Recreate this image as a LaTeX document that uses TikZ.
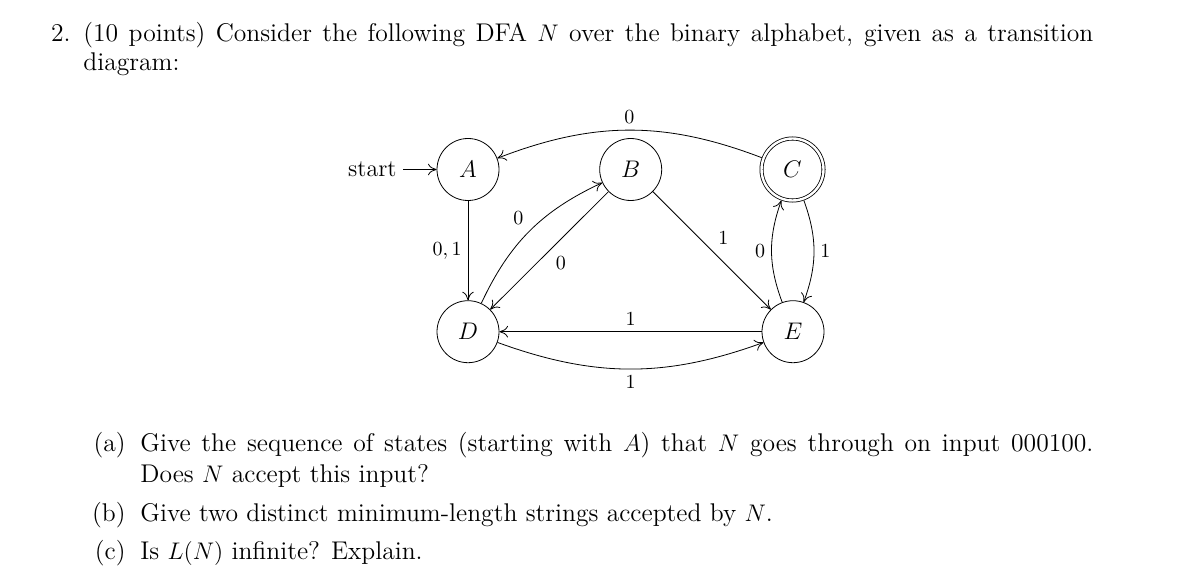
\documentclass[tikz,border=0pt]{standalone}
\usetikzlibrary{automata,arrows.meta}
\begin{document}
\begin{tikzpicture}[x=0.5pt,y=0.5pt,
  txt/.style={inner sep=0pt, anchor=base west, font=\fontsize{12.8}{15}\selectfont},
  stt/.style={circle, draw, minimum size=31pt, inner sep=0pt, font=\fontsize{12}{14.5}\selectfont},
  acc/.style={double, double distance=1.2pt, outer sep=1pt},
  lab/.style={font=\fontsize{10}{12}\selectfont, inner sep=3pt},
  tr/.style={-{Computer Modern Rightarrow[length=4.3pt,width=5.8pt]}, line width=0.4pt}]
\fill[white] (0,0) rectangle (1198,-577);
\useasboundingbox (0,0) rectangle (1198,-577);
% question text
\node[txt, anchor=base east] (n2) at (71,-42) {2.};
\node[txt] (l1) at (83,-42) {\makebox[505pt][s]{(10 points) Consider the following DFA $N$ over the binary alphabet, given as a transition}};
\node[txt] (l2) at (83,-71) {diagram:};
% states
\node[stt] (A) at (468,-169.5) {$A$};
\node[stt] (B) at (630.7,-169.5) {$B$};
\node[stt, acc] (C) at (792.5,-169.5) {$C$};
\node[stt] (D) at (468,-331.7) {$D$};
\node[stt] (E) at (793,-331.7) {$E$};
\node[font=\fontsize{12}{14.5}\selectfont, anchor=east, inner sep=3pt] (start) at (403,-169.5) {start};
% transitions
\draw[tr] (start) -- (A);
\draw[tr] (C) to[bend right=21] node[lab, above] {$0$} (A);
\draw[tr] (A) -- node[lab, left] {$0,1$} (D);
\draw[tr] (D) to[bend left=20] node[lab, above left] {$0$} (B);
\draw[tr] (B) -- node[lab, below right] {$0$} (D);
\draw[tr] (B) -- node[lab, above right] {$1$} (E);
\draw[tr] (E) -- node[lab, above] {$1$} (D);
\draw[tr] (D) to[bend right=20] node[lab, below] {$1$} (E);
\draw[tr] (E) to[bend left=20] node[lab, left] {$0$} (C);
\draw[tr] (C) to[bend left=20] node[lab, right] {$1$} (E);
% sub-questions
\node[txt, anchor=base east] (la) at (126,-451) {(a)};
\node[txt] (qa1) at (140,-451) {\makebox[476.5pt][s]{Give the sequence of states (starting with $A$) that $N$ goes through on input 000100.}};
\node[txt] (qa2) at (140,-482) {Does $N$ accept this input?};
\node[txt, anchor=base east] (lb) at (126,-521) {(b)};
\node[txt] (qb) at (140,-521) {Give two distinct minimum-length strings accepted by $N$.};
\node[txt, anchor=base east] (lc) at (126,-559) {(c)};
\node[txt] (qc) at (140,-559) {Is $L(N)$ infinite? Explain.};
\end{tikzpicture}
\end{document}
